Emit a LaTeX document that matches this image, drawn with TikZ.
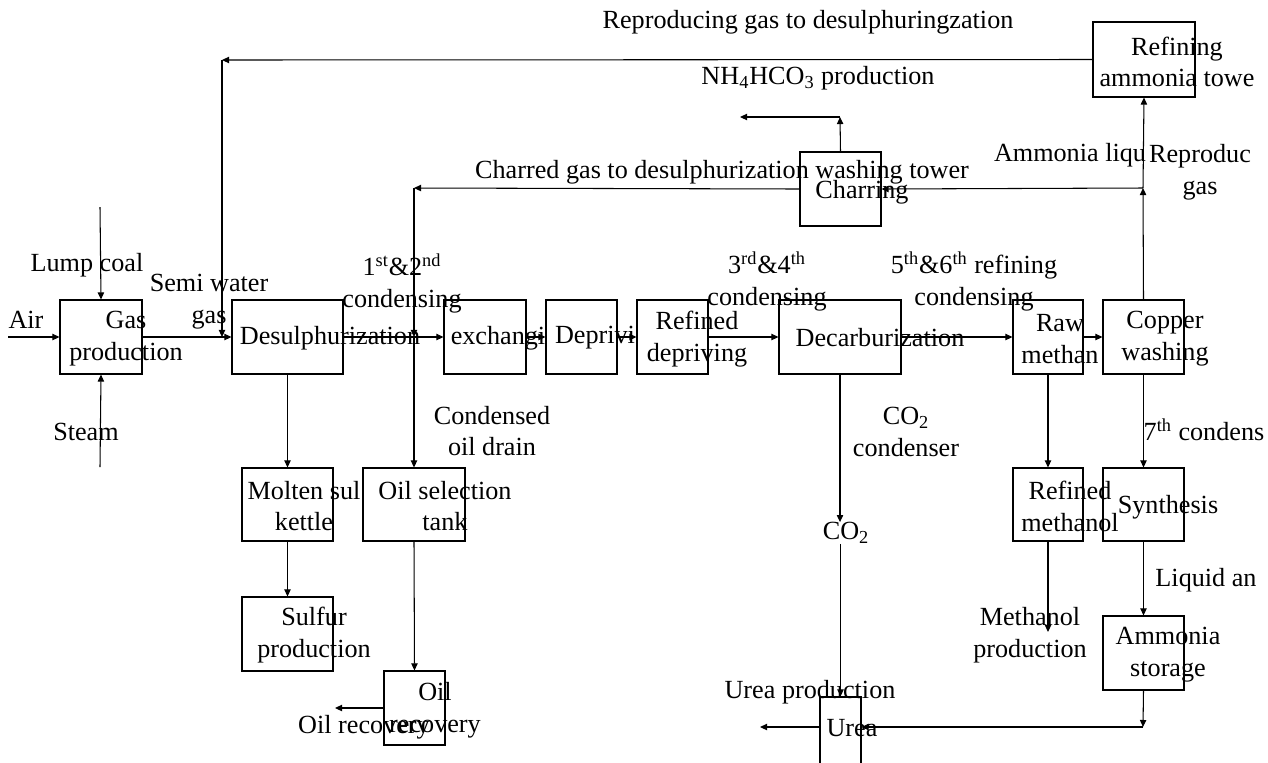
\documentclass[tikz,border=0pt]{standalone}
\usepackage{fontspec}
\setmainfont{Liberation Serif}
\usetikzlibrary{arrows.meta, fit}

\begin{document}
\begin{tikzpicture}[x=0.02cm, y=-0.02cm,
    box/.style={draw, rectangle, inner sep=0pt, line width=0.6pt},
    lbl/.style={inner sep=0pt, align=center, font=\fontsize{14.9}{18.1}\selectfont},
    arrow/.style={-{Triangle[length=4pt,width=3.6pt]}, line width=0.6pt}
]
    \useasboundingbox (0,0) rectangle (1268,762);

    % Boxes
    \node[box, fit={(60,300) (142,374)}] (gas) {};
    \node[box, fit={(232,300) (343,374)}] (desulph) {};
    \node[box, fit={(444,300) (526,374)}] (exch) {};
    \node[box, fit={(546,300) (617,374)}] (depr) {};
    \node[box, fit={(637,300) (708,374)}] (refdepr) {};
    \node[box, fit={(779,300) (901,374)}] (decarb) {};
    \node[box, fit={(1013,300) (1083,374)}] (rawmeth) {};
    \node[box, fit={(1103,300) (1184,374)}] (copper) {};
    \node[box, fit={(1093,22) (1195,97)}] (tower) {};
    \node[box, fit={(800,152) (881,226)}] (charring) {};
    \node[box, fit={(242,468) (333,541)}] (molten) {};
    \node[box, fit={(363,468) (465,541)}] (oilsel) {};
    \node[box, fit={(242,597) (333,671)}] (sulfur) {};
    \node[box, fit={(384,671) (445,745)}] (oilrec) {};
    \node[box, fit={(1013,468) (1083,541)}] (refmeth) {};
    \node[box, fit={(1103,468) (1184,541)}] (synth) {};
    \node[box, fit={(1103,616) (1184,690)}] (storage) {};
    \node[box, fit={(820,697) (861,800)}] (urea) {};

    % Box texts
    \node[lbl] (gaslbl) at (126,339) {Gas\\production};
    \node[lbl] (desulphlbl) at (330,338) {Desulphurization};
    \node[lbl] (exchlbl) at (498,338) {exchangi};
    \node[lbl] (deprlbl) at (595,338) {Deprivi};
    \node[lbl] (refdeprlbl) at (697,339) {Refined\\depriving};
    \node[lbl] (decarblbl) at (880,338) {Decarburization};
    \node[lbl] (rawmethlbl) at (1060,339) {Raw\\methan};
    \node[lbl] (copperlbl) at (1165,339) {Copper\\washing};
    \node[lbl] (towerlbl) at (1177,62) {Refining\\ammonia towe};
    \node[lbl] (charringlbl) at (862,192) {Charring};
    \node[lbl] (moltenlbl) at (304,506) {Molten sul\\kettle};
    \node[lbl] (oilsellbl) at (445,506) {Oil selection\\tank};
    \node[lbl] (sulfurlbl) at (314,635) {Sulfur\\production};
    \node[lbl] (oilreclbl) at (435,710) {Oil\\recovery};
    \node[lbl] (refmethlbl) at (1070,506) {Refined\\methanol};
    \node[lbl] (synthlbl) at (1168,507) {Synthesis};
    \node[lbl] (storagelbl) at (1168,655) {Ammonia\\storage};
    \node[lbl] (urealbl) at (852,728) {Urea};

    % Stream texts
    \node[lbl] (reprodtxt) at (808,22) {Reproducing gas to desulphuringzation};
    \node[lbl] (nhtxt) at (818,78) {NH\textsubscript{4}HCO\textsubscript{3} production};
    \node[lbl] (charredtxt) at (722,172) {Charred gas to desulphurization washing tower};
    \node[lbl] (liquortxt) at (1070,155) {Ammonia liqu};
    \node[lbl] (regastxt) at (1200,172) {Reproduc\\gas};
    \node[lbl] (coaltxt) at (87,265) {Lump coal};
    \node[lbl] (airtxt) at (26,320) {Air};
    \node[lbl] (steamtxt) at (86,432) {Steam};
    \node[lbl] (semitxt) at (209,302) {Semi water\\gas};
    \node[lbl] (cond12txt) at (402,283) {1\textsuperscript{st}\&2\textsuperscript{nd}\\condensing};
    \node[lbl] (cond34txt) at (767,281) {3\textsuperscript{rd}\&4\textsuperscript{th}\\condensing};
    \node[lbl] (cond56txt) at (974,281) {5\textsuperscript{th}\&6\textsuperscript{th} refining\\condensing};
    \node[lbl] (draintxt) at (492,431) {Condensed\\oil drain};
    \node[lbl] (co2ctxt) at (906,432) {CO\textsubscript{2}\\condenser};
    \node[lbl] (co2) at (846,533) {CO\textsubscript{2}};
    \node[lbl] (cond7txt) at (1204,430) {7\textsuperscript{th} condens};
    \node[lbl] (liqtxt) at (1206,580) {Liquid an};
    \node[lbl] (methtxt) at (1030,635) {Methanol\\production};
    \node[lbl] (ureatxt) at (810,692) {Urea production};
    \node[lbl] (oiltxt) at (364,727) {Oil recovery};

    % Junctions and free ends
    \coordinate (topL) at (222,60);
    \coordinate (rj) at (1143,188);
    \coordinate (cj) at (414,188);
    \coordinate (dj) at (414,337);
    \coordinate (nhC) at (840,117);
    \coordinate (nhL) at (740,117);
    \coordinate (coalIn) at (100,207);
    \coordinate (airIn) at (8,337);
    \coordinate (steamIn) at (100,467);
    \coordinate (oilOut) at (335,708);
    \coordinate (methOut) at (1048,632);
    \coordinate (sj) at (1143,727);
    \coordinate (ureaOut) at (760,727);

    % Main line
    \draw[arrow] (coalIn) -- (gas.north);
    \draw[arrow] (airIn) -- (gas.west);
    \draw[arrow] (steamIn) -- (gas.south);
    \draw[arrow] (gas.east) -- (desulph.west);
    \draw[arrow] (desulph.east) -- (exch.west);
    \draw[arrow] (exch.east) -- (depr.west);
    \draw[arrow] (depr.east) -- (refdepr.west);
    \draw[arrow] (refdepr.east) -- (decarb.west);
    \draw[arrow] (decarb.east) -- (rawmeth.west);
    \draw[arrow] (rawmeth.east) -- (copper.west);

    % Recycles
    \draw[arrow] (tower.west) -- (topL);
    \draw[arrow] (topL) -- (topL |- desulph.west);
    \draw[arrow] (copper.north) -- (rj);
    \draw[arrow] (rj) -- (tower.south);
    \draw[arrow] (rj) -- (charring.east);
    \draw[arrow] (charring.west) -- (cj);
    \draw[arrow] (cj) -- (dj);
    \draw[arrow] (dj) -- (oilsel.north);
    \draw[arrow] (charring.north) -- (nhC);
    \draw[arrow] (nhC) -- (nhL);

    % Side products
    \draw[arrow] (desulph.south) -- (molten.north);
    \draw[arrow] (molten.south) -- (sulfur.north);
    \draw[arrow] (oilsel.south) -- (oilrec.north);
    \draw[arrow] (oilrec.west) -- (oilOut);
    \draw[arrow] (decarb.south) -- (decarb.south |- co2.north);
    \draw[arrow] (co2.south -| urea.north) -- (urea.north);
    \draw[arrow] (rawmeth.south) -- (refmeth.north);
    \draw[arrow] (refmeth.south) -- (methOut);
    \draw[arrow] (copper.south) -- (synth.north);
    \draw[arrow] (synth.south) -- (storage.north);
    \draw[arrow] (storage.south) -- (sj);
    \draw[arrow] (sj) -- (sj -| urea.east);
    \draw[arrow] (urea.west |- sj) -- (ureaOut);

\end{tikzpicture}
\end{document}
